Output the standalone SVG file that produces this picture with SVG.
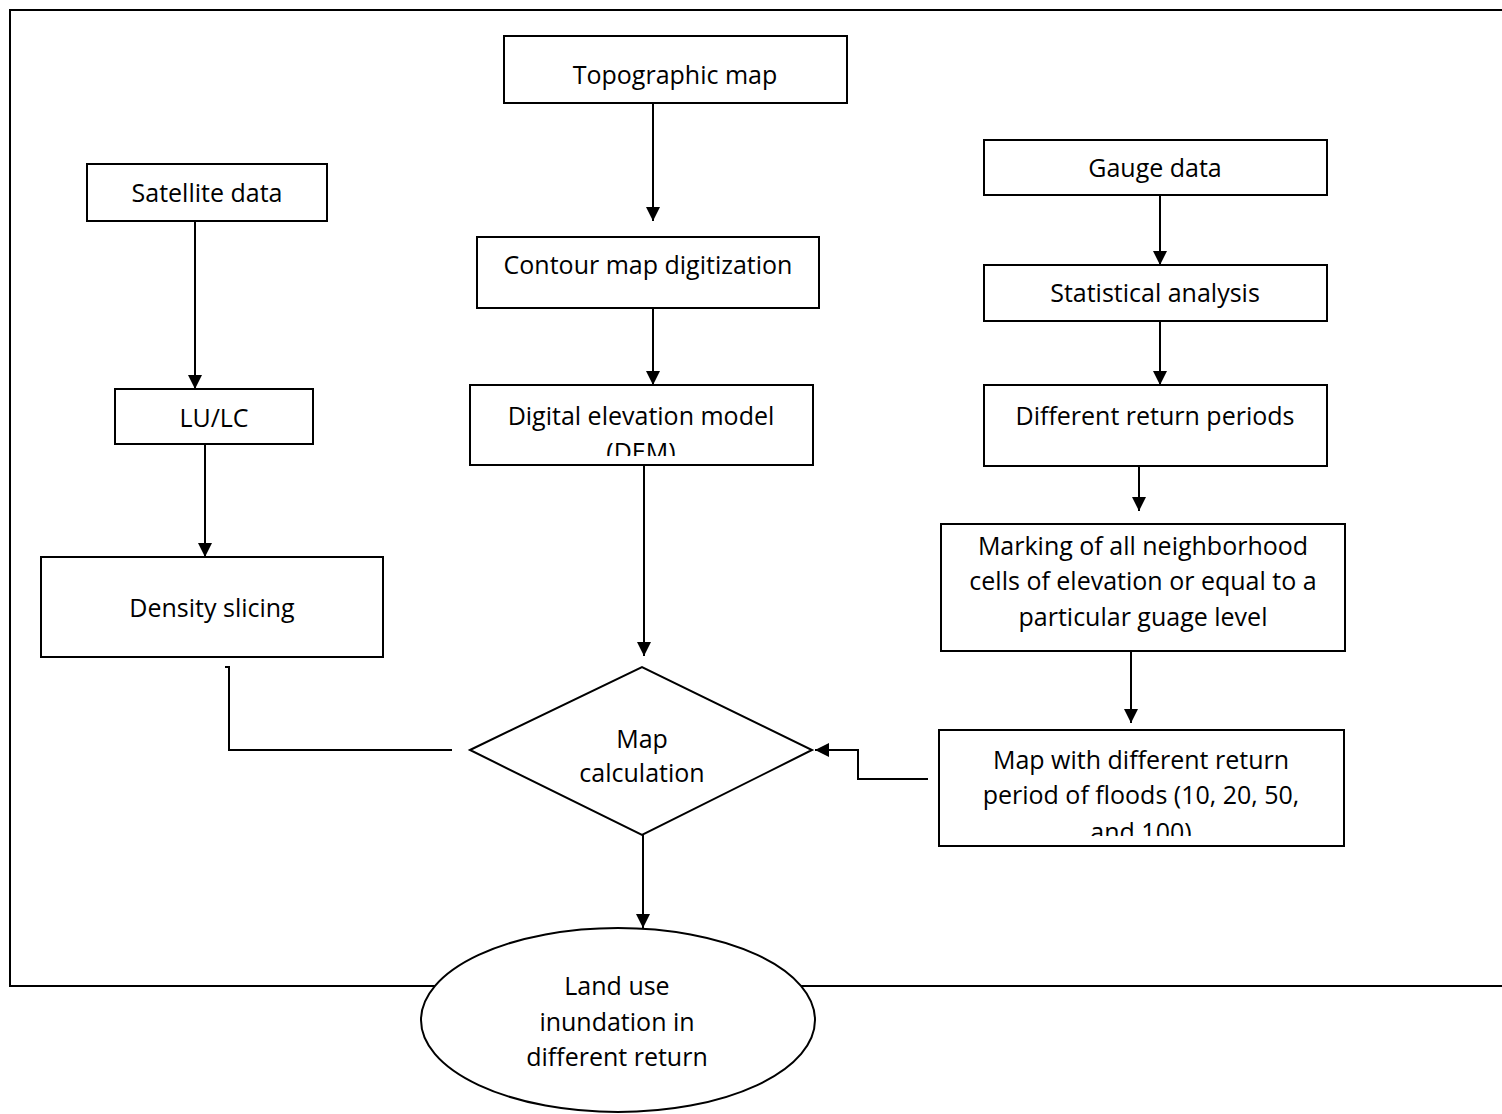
<svg xmlns="http://www.w3.org/2000/svg" width="1502" height="1114" viewBox="0 0 1502 1114">
<style>
.box{fill:#fff;stroke:#000;stroke-width:2}
.t{font-family:"Open Sans","Liberation Sans",sans-serif;font-size:25px;fill:#000;text-anchor:middle}
.c{fill:none;stroke:#000;stroke-width:2}
</style>
<defs>
<marker id="ah2" viewBox="0 0 10 10" refX="10" refY="5" markerWidth="14" markerHeight="14" orient="auto" markerUnits="userSpaceOnUse"><path d="M0,0 L10,5 L0,10 Z" fill="#000"/></marker>
<clipPath id="cDem"><rect x="470" y="385" width="343" height="71"/></clipPath>
<clipPath id="cMap"><rect x="939" y="730" width="405" height="106"/></clipPath>
</defs>
<rect x="10" y="10" width="1500" height="976" fill="none" stroke="#000" stroke-width="2"/>
<g id="connectors">
<line class="c" x1="653" y1="103" x2="653" y2="221" marker-end="url(#ah2)"/>
<line class="c" x1="653" y1="308" x2="653" y2="385" marker-end="url(#ah2)"/>
<line class="c" x1="644" y1="465" x2="644" y2="656" marker-end="url(#ah2)"/>
<line class="c" x1="195" y1="221" x2="195" y2="389" marker-end="url(#ah2)"/>
<line class="c" x1="205" y1="444" x2="205" y2="557" marker-end="url(#ah2)"/>
<polyline class="c" points="225,667 229,667 229,750 452,750"/>
<line class="c" x1="1160" y1="195" x2="1160" y2="265" marker-end="url(#ah2)"/>
<line class="c" x1="1160" y1="321" x2="1160" y2="385" marker-end="url(#ah2)"/>
<line class="c" x1="1139" y1="466" x2="1139" y2="511" marker-end="url(#ah2)"/>
<line class="c" x1="1131" y1="651" x2="1131" y2="723" marker-end="url(#ah2)"/>
<polyline class="c" points="928,779 858,779 858,750 815,750" marker-end="url(#ah2)"/>
<line class="c" x1="643" y1="835" x2="643" y2="928" marker-end="url(#ah2)"/>
</g>
<g id="topo"><rect class="box" x="504" y="36" width="343" height="67"/><text class="t" x="675" y="84">Topographic map</text></g>
<g id="satellite"><rect class="box" x="87" y="164" width="240" height="57"/><text class="t" x="207" y="202">Satellite data</text></g>
<g id="gauge"><rect class="box" x="984" y="140" width="343" height="55"/><text class="t" x="1155" y="177">Gauge data</text></g>
<g id="contour"><rect class="box" x="477" y="237" width="342" height="71"/><text class="t" x="648" y="274">Contour map digitization</text></g>
<g id="stat"><rect class="box" x="984" y="265" width="343" height="56"/><text class="t" x="1155" y="302">Statistical analysis</text></g>
<g id="lulc"><rect class="box" x="115" y="389" width="198" height="55"/><text class="t" x="214" y="427">LU/LC</text></g>
<g id="dem"><rect class="box" x="470" y="385" width="343" height="80"/><g clip-path="url(#cDem)"><text class="t" x="641" y="425">Digital elevation model</text><text class="t" x="641" y="461">(DEM)</text></g></g>
<g id="return"><rect class="box" x="984" y="385" width="343" height="81"/><text class="t" x="1155" y="425">Different return periods</text></g>
<g id="marking"><rect class="box" x="941" y="524" width="404" height="127"/><text class="t" x="1143" y="555">Marking of all neighborhood</text><text class="t" x="1143" y="590">cells of elevation or equal to a</text><text class="t" x="1143" y="626">particular guage level</text></g>
<g id="density"><rect class="box" x="41" y="557" width="342" height="100"/><text class="t" x="212" y="617">Density slicing</text></g>
<g id="mapwith"><rect class="box" x="939" y="730" width="405" height="116"/><g clip-path="url(#cMap)"><text class="t" x="1141" y="769">Map with different return</text><text class="t" x="1141" y="804">period of floods (10, 20, 50,</text><text class="t" x="1141" y="841">and 100)</text></g></g>
<g id="mapcalc"><polygon class="box" points="470,750 642,667 812,750 642,835"/><text class="t" x="642" y="748">Map</text><text class="t" x="642" y="782">calculation</text></g>
<g id="landuse"><ellipse class="box" cx="618" cy="1020" rx="197" ry="92"/><text class="t" x="617" y="995">Land use</text><text class="t" x="617" y="1031">inundation in</text><text class="t" x="617" y="1066">different return</text></g>
</svg>
